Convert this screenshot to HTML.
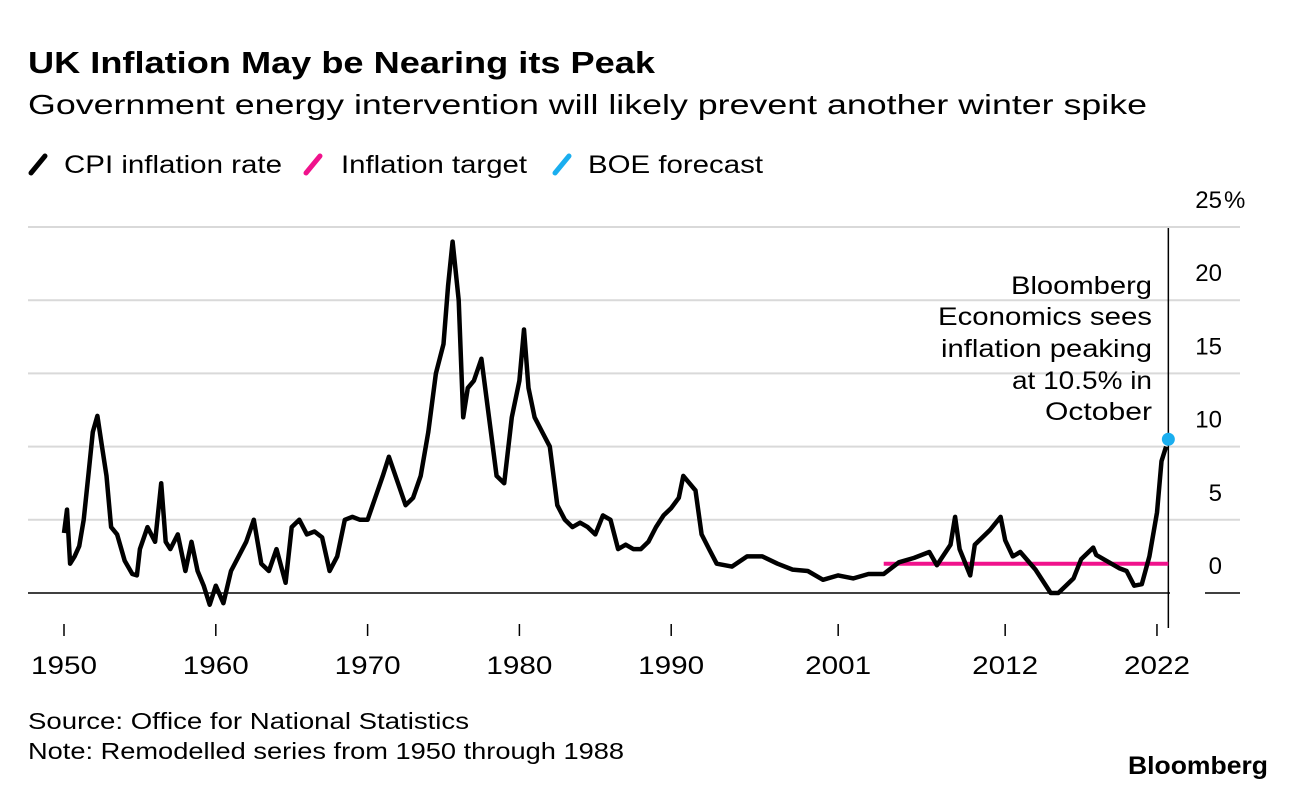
<!DOCTYPE html>
<html><head><meta charset="utf-8">
<style>
html,body{margin:0;padding:0;background:#fff;}
body{width:1296px;height:790px;overflow:hidden;font-family:"Liberation Sans",sans-serif;color:#000;}
svg{position:absolute;left:0;top:0;}
</style></head>
<body>
<svg width="1296" height="790">
<text x="28" y="73" font-size="31" font-weight="bold" textLength="627" lengthAdjust="spacingAndGlyphs">UK Inflation May be Nearing its Peak</text>
<text x="28" y="114" font-size="28" textLength="1119" lengthAdjust="spacingAndGlyphs">Government energy intervention will likely prevent another winter spike</text>
<g>
 <g><line x1="31" y1="173" x2="45" y2="156" stroke="#000" stroke-width="5" stroke-linecap="round"/><text x="64" y="173" font-size="25" textLength="218" lengthAdjust="spacingAndGlyphs">CPI inflation rate</text></g>
 <g><line x1="306" y1="173" x2="320" y2="156" stroke="#f0128c" stroke-width="5" stroke-linecap="round"/><text x="341" y="173" font-size="25" textLength="186" lengthAdjust="spacingAndGlyphs">Inflation target</text></g>
 <g><line x1="555" y1="173" x2="569" y2="156" stroke="#1aaeef" stroke-width="5" stroke-linecap="round"/><text x="588" y="173" font-size="25" textLength="175" lengthAdjust="spacingAndGlyphs">BOE forecast</text></g>
</g>
<g id="grid"></g>
<g id="marks"></g>
<g font-size="25">
 <text x="1011" y="294" textLength="141" lengthAdjust="spacingAndGlyphs">Bloomberg</text>
 <text x="938" y="325" textLength="214" lengthAdjust="spacingAndGlyphs">Economics sees</text>
 <text x="941" y="357" textLength="211" lengthAdjust="spacingAndGlyphs">inflation peaking</text>
 <text x="1012" y="389" textLength="140" lengthAdjust="spacingAndGlyphs">at 10.5% in</text>
 <text x="1045" y="420" textLength="107" lengthAdjust="spacingAndGlyphs">October</text>
</g>
<text x="28" y="729" font-size="23" textLength="441" lengthAdjust="spacingAndGlyphs">Source: Office for National Statistics</text>
<text x="28" y="759" font-size="23" textLength="596" lengthAdjust="spacingAndGlyphs">Note: Remodelled series from 1950 through 1988</text>
<text x="1128" y="774" font-size="25" font-weight="bold" textLength="140" lengthAdjust="spacingAndGlyphs">Bloomberg</text>
</svg>
<script>
const yTicks=[0,5,10,15,20,25];
const yTickLabels=["0","5","10","15","20","25"];
const xTicks=[1950,1960,1970,1980,1990,2001,2012,2022];
const cpiYears=[1950,1950.2,1950.4,1950.7,1951,1951.3,1951.6,1951.9,1952.2,1952.5,1952.8,1953.1,1953.5,1954,1954.5,1954.8,1955,1955.5,1956,1956.4,1956.7,1957,1957.5,1958,1958.4,1958.8,1959.2,1959.6,1960,1960.5,1961,1961.5,1962,1962.5,1963,1963.5,1964,1964.6,1965,1965.5,1966,1966.5,1967,1967.5,1968,1968.5,1969,1969.5,1970,1970.5,1971,1971.4,1972,1972.5,1973,1973.5,1974,1974.5,1975,1975.3,1975.6,1976,1976.3,1976.6,1977,1977.5,1978,1978.5,1979,1979.5,1980,1980.3,1980.6,1981,1981.5,1982,1982.5,1983,1983.5,1984,1984.5,1985,1985.5,1986,1986.5,1987,1987.5,1988,1988.5,1989,1989.5,1990,1990.5,1990.8,1991.2,1991.6,1992,1992.5,1993,1994,1995,1996,1997,1998,1999,2000,2001,2002,2003,2004,2005,2006,2007,2007.5,2008.4,2008.7,2009,2009.7,2010,2011,2011.7,2012,2012.5,2013,2014,2015,2015.5,2016,2016.5,2017,2017.8,2018,2019,2019.5,2020,2020.5,2021,2021.5,2022,2022.3,2022.6];
const cpiValues=[4.1,5.7,2.0,2.5,3.2,5,8,11,12.1,10,8,4.5,4,2.2,1.3,1.2,3,4.5,3.5,7.5,3.5,3,4,1.5,3.5,1.5,0.5,-0.8,0.5,-0.7,1.5,2.5,3.5,5,2,1.5,3,0.7,4.5,5,4,4.2,3.8,1.5,2.5,5,5.2,5,5,6.5,8,9.3,7.5,6,6.5,8,11,15,17,21,24,20,12,14,14.5,16,12,8,7.5,12,14.5,18,14,12,11,10,6,5,4.5,4.8,4.5,4,5.3,5,3,3.3,3,3,3.5,4.5,5.3,5.8,6.5,8,7.5,7,4,3,2,1.8,2.5,2.5,2,1.6,1.5,0.9,1.2,1,1.3,1.3,2.1,2.4,2.8,1.9,3.3,5.2,3,1.2,3.3,4.3,5.2,3.6,2.5,2.8,1.6,0,0,0.5,1,2.3,3.1,2.6,2,1.7,1.5,0.5,0.6,2.5,5.5,9,10];
const targetStart=[2004,2];
const targetEnd=[2022.75,2];
const forecastPoint=[2022.75,10.5];
const X=y=>64+(y-1950)*15.18;
const Y=v=>593-v*14.64;
const NS="http://www.w3.org/2000/svg";
const grid=document.getElementById('grid'),marks=document.getElementById('marks');
function mk(tag,attrs,parent){const e=document.createElementNS(NS,tag);for(const k in attrs)e.setAttribute(k,attrs[k]);parent.appendChild(e);return e;}
yTicks.forEach((t,i)=>{
 const l=mk('line',{x1:28,x2:t===0?1170:1240,y1:Y(t),y2:Y(t),stroke:t===0?'#000':'#d9d9d9','stroke-width':t===0?1.5:2},grid);
 
 
 const tx=mk('text',{x:1222,y:Y(t)-19,'font-size':24,'text-anchor':'end'},grid);
 tx.textContent=yTickLabels[i];
 
 
 if(i===yTicks.length-1){
  const pc=mk('text',{x:1224,y:Y(t)-19,'font-size':24},grid);
  pc.textContent='%';
  
  
 }
});
const z2=mk('line',{x1:1205,x2:1240,y1:Y(0),y2:Y(0),stroke:'#000','stroke-width':1.5},grid);


xTicks.forEach(t=>{
 const tk=mk('line',{x1:X(t),x2:X(t),y1:624,y2:636,stroke:'#000','stroke-width':1.5},grid);
 
 
 const tx=mk('text',{x:X(t)-33,y:674,'font-size':25,textLength:66,lengthAdjust:'spacingAndGlyphs'},grid);
 tx.textContent=t;
 
 
});
const vl=mk('line',{x1:X(forecastPoint[0]),x2:X(forecastPoint[0]),y1:228,y2:628,stroke:'#000','stroke-width':1.5},marks);


const tg=mk('line',{x1:X(targetStart[0]),x2:X(targetEnd[0]),y1:Y(targetStart[1]),y2:Y(targetEnd[1]),stroke:'#f0128c','stroke-width':4},marks);


const d=cpiYears.map((y,i)=>(i?'L':'M')+X(y).toFixed(1)+','+Y(cpiValues[i]).toFixed(1)).join('');
const p=mk('path',{d:d,fill:'none',stroke:'#000','stroke-width':4.5,'stroke-linejoin':'round'},marks);


const c=mk('circle',{cx:X(forecastPoint[0]),cy:Y(forecastPoint[1]),r:6.5,fill:'#1aaeef'},marks);


</script>
</body></html>
